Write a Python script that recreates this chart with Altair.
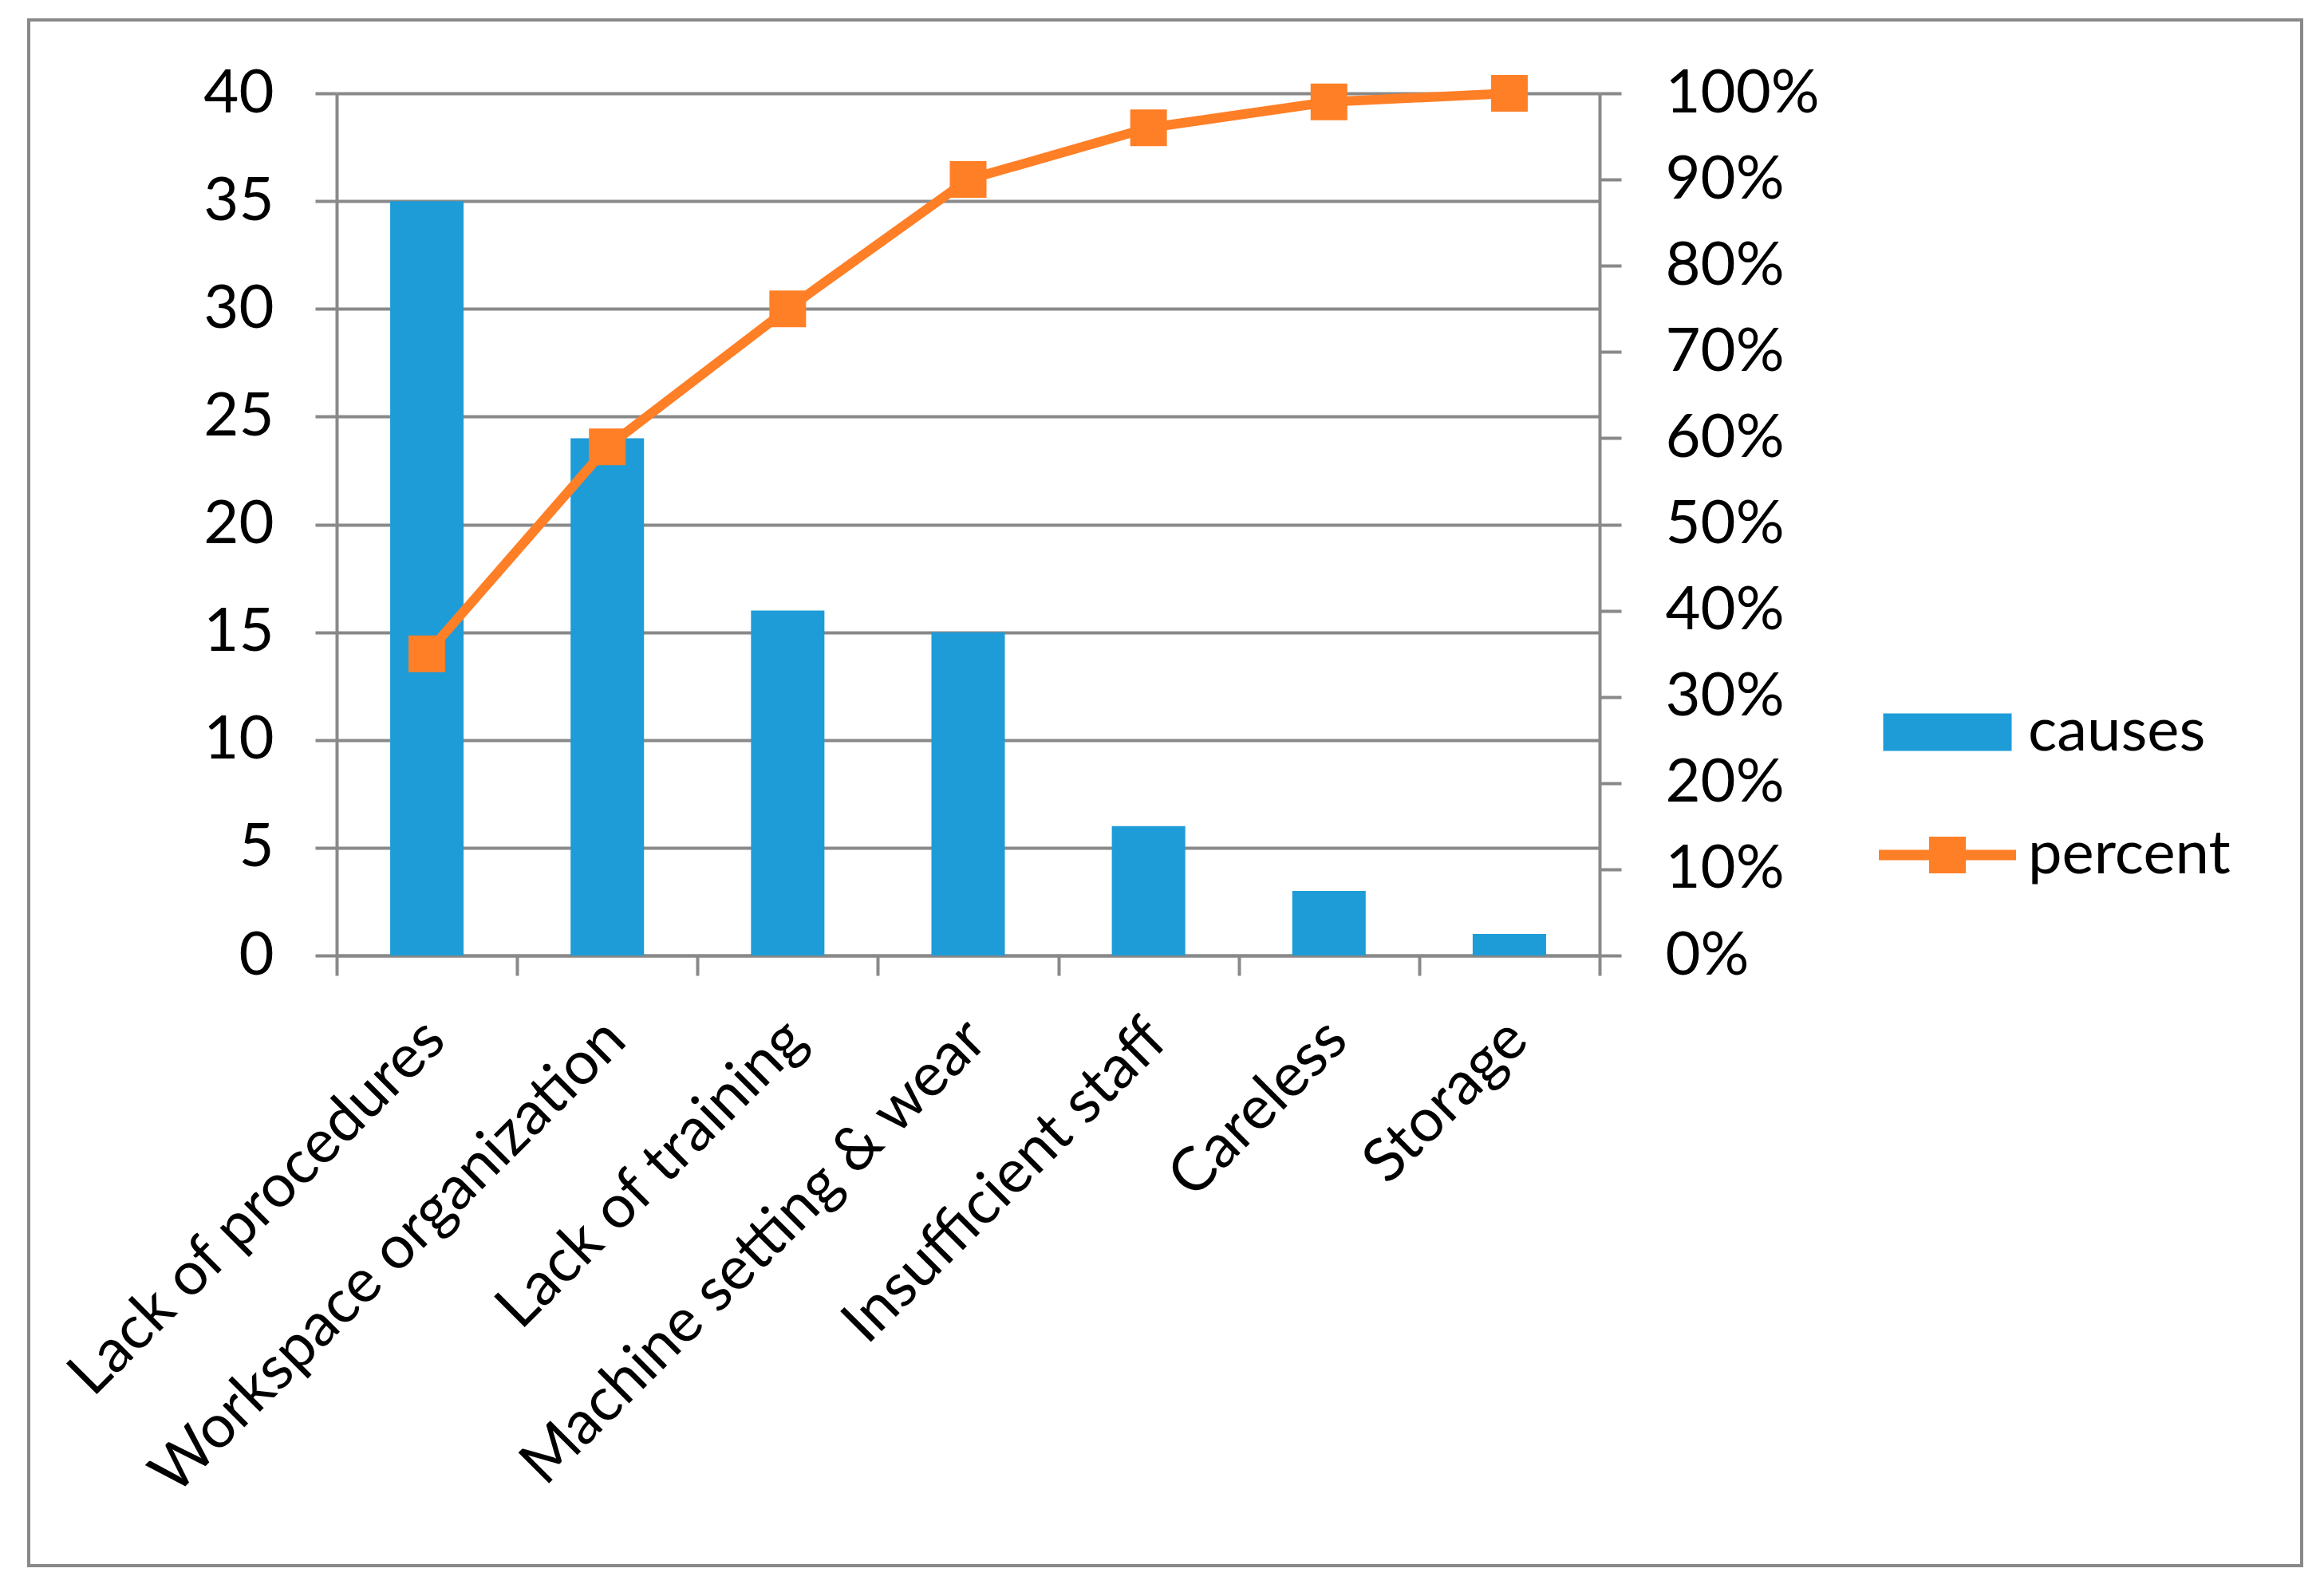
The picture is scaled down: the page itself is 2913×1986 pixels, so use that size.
import altair as alt
import pandas as pd

causes_names = ["Lack of procedures", "Workspace organization", "Lack of training",
                "Machine setting & wear", "Insufficient staff", "Careless", "Storage"]
causes_counts = [35, 24, 16, 15, 6, 3, 1]
cum_percent = [0.35, 0.59, 0.75, 0.90, 0.96, 0.99, 1.00]
series_names = ["causes", "percent"]
left_ticks = [0, 5, 10, 15, 20, 25, 30, 35, 40]
right_ticks = [0, 0.1, 0.2, 0.3, 0.4, 0.5, 0.6, 0.7, 0.8, 0.9, 1.0]

BLUE = "#1E9CD7"
ORANGE = "#FF7F27"
GRAY = "#898989"
FONT = "Lato"
FS = 76

df = pd.DataFrame({"cause": causes_names, "count": causes_counts, "pct": cum_percent})
leg_df = pd.DataFrame({"series": series_names})
frame_df = pd.DataFrame({"k": [0]})

x_enc = alt.X("cause:N", sort=causes_names, title=None,
              scale=alt.Scale(paddingInner=0, paddingOuter=0),
              axis=alt.Axis(labelAngle=-45, labelAlign="right", labelBaseline="middle",
                            labelFont=FONT, labelFontSize=FS, labelColor="black",
                            labelPadding=68, labelOffset=10, labelLimit=2000,
                            tickBand="extent", tickSize=25, tickWidth=4, tickColor=GRAY,
                            domainColor=GRAY, domainWidth=4, grid=False))

bars = alt.Chart(df).mark_bar(color=BLUE, width=alt.RelativeBandSize(0.407)).encode(
    x=x_enc,
    y=alt.Y("count:Q", title=None,
            scale=alt.Scale(domain=[0, 40], nice=False),
            axis=alt.Axis(values=left_ticks, orient="left", labelFont=FONT, labelFontSize=FS,
                          labelColor="black", labelPadding=52, tickSize=27, tickWidth=4,
                          tickColor=GRAY, domainColor=GRAY, domainWidth=4,
                          grid=True, gridColor=GRAY, gridWidth=4, gridOpacity=1)),
)

line = alt.Chart(df).mark_line(color=ORANGE, strokeWidth=12, strokeJoin="round").encode(
    x=alt.X("cause:N", sort=causes_names),
    y=alt.Y("pct:Q", title=None,
            scale=alt.Scale(domain=[0, 1], nice=False),
            axis=alt.Axis(values=right_ticks, format=".0%", orient="right", labelFont=FONT,
                          labelFontSize=FS, labelColor="black", labelPadding=55, tickSize=27,
                          tickWidth=4, tickColor=GRAY, domainColor=GRAY, domainWidth=4,
                          labelLimit=1000, grid=False)),
)

points = alt.Chart(df).mark_point(shape="square", filled=True, size=2116, color=ORANGE,
                                  opacity=1).encode(
    x=alt.X("cause:N", sort=causes_names),
    y=alt.Y("pct:Q", scale=alt.Scale(domain=[0, 1], nice=False), axis=None),
)

rect_path = "M-1.61,-0.47H1.61V0.47H-1.61Z"
line_path = "M-1.72,-0.13H-0.46V-0.46H0.46V-0.13H1.72V0.13H0.46V0.46H-0.46V0.13H-1.72Z"

leg = alt.Legend(title=None, orient="none", legendX=1969, legendY=751,
                 padding=0, symbolSize=10000, symbolOpacity=1,
                 symbolStrokeWidth=0, labelFont=FONT, labelFontSize=FS,
                 labelColor="black", labelOffset=51, rowPadding=66,
                 labelLimit=1000)

legend_layer = alt.Chart(leg_df).mark_point(filled=True, size=10000, opacity=0).encode(
    x=alt.value(0),
    y=alt.value(0),
    color=alt.Color("series:N", scale=alt.Scale(domain=series_names, range=[BLUE, ORANGE]),
                    legend=leg),
    shape=alt.Shape("series:N", scale=alt.Scale(domain=series_names, range=[rect_path, line_path]),
                    legend=leg),
)

frame = alt.Chart(frame_df).mark_rect(fillOpacity=0, stroke=GRAY, strokeWidth=4).encode(
    x=alt.value(-386), x2=alt.value(2463), y=alt.value(-92), y2=alt.value(1846)
)

chart = alt.layer(frame, bars, line, points, legend_layer).resolve_scale(
    y="independent"
).properties(
    width=1583, height=1081,
    autosize=alt.AutoSizeParams(type="none"),
    padding={"left": 414, "top": 109, "right": 892, "bottom": 775},
).configure_view(stroke=None)

chart.save("out.html", embed_options={"renderer": "svg", "actions": False})
